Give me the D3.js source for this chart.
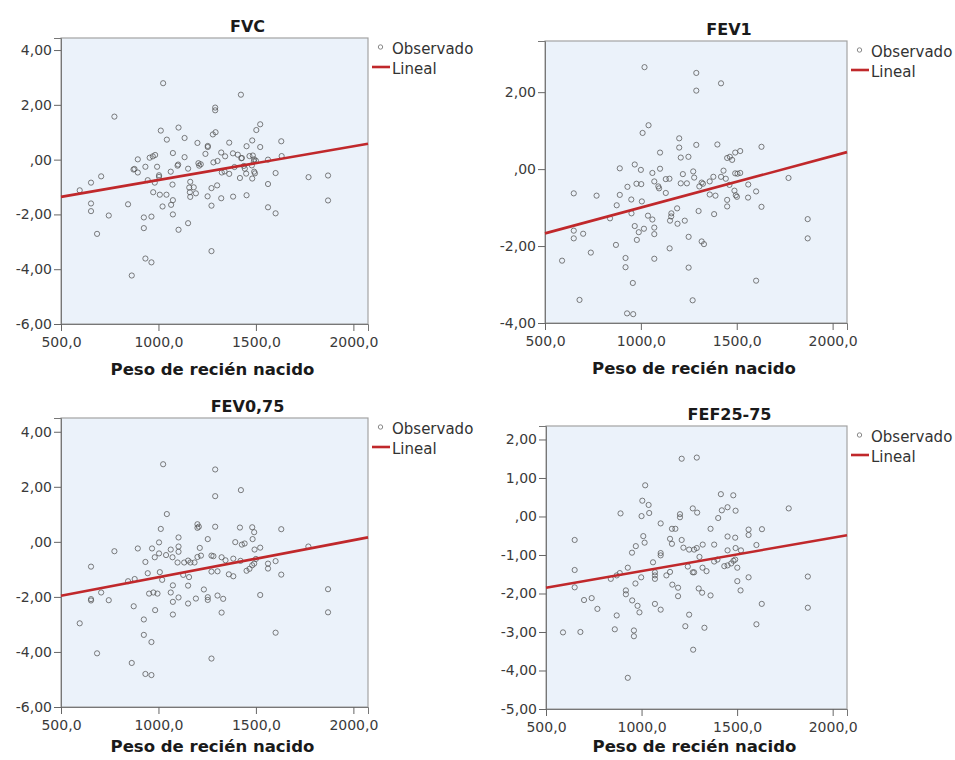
<!DOCTYPE html>
<html><head><meta charset="utf-8">
<script src="https://cdn.jsdelivr.net/npm/d3@7"></script>
<style>
body{margin:0;background:#fff;}
svg{display:block;font-family:"DejaVu Sans",sans-serif;}
</style>
</head><body>
<svg id="chart" width="955" height="760"></svg>
<script>
// ---------- DATA ----------
const titles = ["FVC", "FEV1", "FEV0,75", "FEF25-75"];
const xLabel = "Peso de recién nacido";
const legendLabels = ["Observado", "Lineal"];
const xTicks = [500, 1000, 1500, 2000];
const xDomain = [500, 2075];

const yTicksFVC = [-6, -4, -2, 0, 2, 4];
const yTicksFEV1 = [-4, -2, 0, 2];
const yTicksFEV075 = [-6, -4, -2, 0, 2, 4];
const yTicksFEF = [-5, -4, -3, -2, -1, 0, 1, 2];

const yDomainFVC = [-6, 4.44];
const yDomainFEV1 = [-4, 3.33];
const yDomainFEV075 = [-6, 4.5];
const yDomainFEF = [-5, 2.35];

// linear fit: [intercept, slope]
const fitFVC = [-1.977, 0.001233];
const fitFEV1 = [-2.341, 0.001341];
const fitFEV075 = [-2.634, 0.001348];
const fitFEF = [-2.282, 0.000865];

const fvcPoints = [[1024,2.79],[1423,2.37],[774,1.57],[1291,1.90],[1291,1.80],[1522,1.29],[1502,1.08],[1012,1.06],[1103,1.17],[1279,0.92],[1293,1.00],[1043,0.73],[1134,0.79],[1481,0.70],[1630,0.67],[1200,0.61],[1363,0.62],[1253,0.50],[1253,0.46],[1452,0.49],[1522,0.46],[1074,0.24],[1241,0.21],[1322,0.26],[1342,0.12],[1382,0.23],[1407,0.18],[1428,0.06],[1425,0.05],[1467,0.13],[1484,0.15],[1632,0.13],[894,0.01],[955,0.07],[971,0.12],[983,0.17],[1134,0.09],[1303,-0.05],[1282,-0.10],[1491,0.01],[1500,-0.04],[1490,-0.06],[1562,0.00],[877,-0.34],[872,-0.36],[894,-0.47],[933,-0.26],[993,-0.26],[1098,-0.22],[1101,-0.18],[1152,-0.33],[1205,-0.13],[1217,-0.17],[1209,-0.22],[1063,-0.44],[1390,-0.27],[1438,-0.23],[1443,-0.33],[1479,-0.21],[1450,-0.51],[1491,-0.44],[1495,-0.50],[1601,-0.49],[706,-0.61],[1003,-0.57],[1003,-0.63],[945,-0.75],[981,-0.84],[654,-0.84],[596,-1.12],[1072,-0.91],[1163,-0.81],[1158,-1.02],[1181,-1.01],[1272,-1.04],[1301,-0.94],[1325,-0.47],[1339,-0.43],[1363,-0.52],[1418,-0.67],[1481,-0.69],[1562,-0.89],[1770,-0.64],[1870,-0.58],[1870,-1.49],[973,-1.19],[1007,-1.28],[1041,-1.28],[1074,-1.48],[1161,-1.19],[1163,-1.36],[1192,-1.23],[1252,-1.34],[1322,-1.41],[1383,-1.35],[1452,-1.30],[654,-1.60],[654,-1.88],[844,-1.63],[1021,-1.71],[1065,-1.65],[1272,-1.68],[1562,-1.74],[1601,-1.96],[745,-2.04],[925,-2.11],[964,-2.08],[1074,-2.00],[925,-2.50],[1103,-2.56],[1152,-2.32],[685,-2.71],[1272,-3.34],[933,-3.61],[964,-3.75],[863,-4.23]];

const fev1Points = [[1019,2.65],[1289,2.50],[1289,2.04],[1418,2.23],[1009,0.94],[1040,1.14],[1200,0.80],[1200,0.56],[1289,0.63],[1399,0.64],[1629,0.58],[1100,0.43],[1208,0.30],[1248,0.32],[1450,0.29],[1464,0.32],[1476,0.24],[1492,0.43],[1518,0.47],[890,0.02],[968,0.12],[1000,-0.02],[1060,-0.10],[1100,0.01],[1219,-0.13],[1273,-0.06],[1278,-0.22],[1130,-0.26],[1149,-0.25],[1070,-0.32],[977,-0.38],[1002,-0.39],[930,-0.46],[1091,-0.45],[1095,-0.50],[1208,-0.37],[1240,-0.37],[1317,-0.35],[1324,-0.38],[1359,-0.32],[1378,-0.20],[1431,-0.04],[1418,-0.20],[1443,-0.25],[1492,-0.11],[1504,-0.12],[1518,-0.10],[1462,-0.41],[1560,-0.40],[1770,-0.23],[650,-0.63],[769,-0.69],[890,-0.67],[1130,-0.62],[1305,-0.45],[1359,-0.66],[1389,-0.69],[1488,-0.56],[1495,-0.68],[1501,-0.72],[1559,-0.74],[1601,-0.58],[950,-0.79],[1005,-0.84],[874,-0.94],[1189,-1.02],[1301,-1.09],[1450,-0.80],[1450,-0.97],[1629,-0.98],[951,-1.15],[839,-1.28],[1037,-1.21],[1060,-1.31],[1159,-1.15],[1158,-1.23],[1152,-1.34],[1191,-1.42],[1229,-1.34],[1382,-1.17],[1070,-1.52],[1070,-1.69],[968,-1.48],[1016,-1.55],[989,-1.64],[979,-1.84],[650,-1.60],[650,-1.80],[699,-1.68],[870,-1.97],[739,-2.17],[589,-2.38],[920,-2.31],[920,-2.55],[1070,-2.33],[1150,-2.06],[1249,-1.76],[1317,-1.88],[1329,-1.95],[1249,-2.56],[958,-2.96],[1601,-2.90],[1870,-1.30],[1870,-1.80],[680,-3.40],[1270,-3.41],[928,-3.75],[960,-3.77]];

const fev075Points = [[1024,2.82],[1291,2.63],[1291,1.66],[1423,1.88],[1043,1.01],[1012,0.47],[1200,0.64],[1200,0.51],[1207,0.55],[1291,0.55],[1418,0.52],[1481,0.53],[1491,0.35],[1630,0.46],[1103,0.16],[1253,0.10],[1483,0.10],[1394,-0.01],[1428,-0.10],[1442,-0.06],[894,-0.24],[774,-0.34],[967,-0.24],[1003,-0.02],[1103,-0.17],[1103,-0.36],[1063,-0.28],[1003,-0.42],[981,-0.56],[1039,-0.48],[1072,-0.56],[1212,-0.22],[1493,-0.28],[1522,-0.21],[1769,-0.17],[933,-0.73],[1098,-0.75],[1132,-0.75],[1152,-0.68],[1164,-0.75],[1185,-0.75],[1200,-0.55],[1218,-0.50],[1272,-0.50],[1282,-0.52],[1324,-0.56],[1344,-0.67],[1384,-0.61],[1421,-0.69],[1500,-0.62],[1491,-0.79],[1481,-0.85],[1562,-0.79],[1562,-0.97],[1601,-0.70],[654,-0.90],[945,-1.14],[1007,-1.10],[1019,-1.38],[1127,-1.20],[1157,-1.28],[1272,-1.08],[1303,-1.07],[1361,-1.18],[1384,-1.25],[1452,-1.05],[1467,-0.98],[1630,-1.19],[844,-1.43],[878,-1.35],[706,-1.84],[654,-2.08],[654,-2.13],[745,-2.12],[952,-1.88],[974,-1.84],[995,-1.88],[1074,-1.58],[1063,-1.84],[1074,-2.18],[1103,-2.02],[1152,-1.59],[1152,-2.24],[1192,-2.06],[1233,-1.73],[1253,-2.01],[1253,-2.11],[1303,-1.95],[1332,-2.07],[1522,-1.93],[1870,-1.72],[1870,-2.56],[873,-2.34],[983,-2.48],[1074,-2.64],[1324,-2.57],[596,-2.96],[925,-2.82],[925,-3.38],[964,-3.64],[1601,-3.30],[685,-4.05],[863,-4.40],[1272,-4.24],[933,-4.80],[964,-4.84]];

const fefPoints = [[1210,1.50],[1289,1.53],[1019,0.81],[1004,0.41],[1037,0.30],[1040,0.09],[1000,0.01],[890,0.08],[1268,0.21],[1291,0.10],[1201,0.06],[1201,-0.02],[1415,0.58],[1480,0.55],[1420,0.16],[1450,0.24],[1492,0.15],[1401,-0.04],[1770,0.21],[1100,-0.18],[1159,-0.32],[1177,-0.32],[1361,-0.32],[1560,-0.34],[1560,-0.48],[1630,-0.33],[650,-0.61],[1009,-0.51],[1016,-0.68],[970,-0.77],[950,-0.94],[1149,-0.58],[1159,-0.71],[1210,-0.61],[1219,-0.81],[1249,-0.86],[1275,-0.86],[1289,-0.82],[1320,-0.73],[1380,-0.73],[1450,-0.52],[1490,-0.55],[1450,-0.88],[1492,-0.82],[1520,-0.88],[1601,-0.74],[1100,-0.95],[1100,-1.01],[1060,-1.19],[1303,-1.05],[1380,-1.17],[1397,-1.12],[1433,-1.29],[1450,-1.27],[1469,-1.22],[1481,-1.15],[1490,-1.12],[1501,-1.33],[650,-1.39],[928,-1.33],[886,-1.47],[870,-1.53],[839,-1.62],[998,-1.58],[1070,-1.45],[1070,-1.53],[1070,-1.62],[1130,-1.53],[1149,-1.44],[1242,-1.30],[1268,-1.45],[1275,-1.45],[1319,-1.33],[1340,-1.42],[1560,-1.58],[1870,-1.56],[650,-1.84],[968,-1.74],[1161,-1.77],[1191,-1.85],[1191,-2.07],[1299,-1.87],[1317,-1.98],[1361,-2.05],[1501,-1.68],[1518,-1.92],[699,-2.17],[739,-2.12],[769,-2.40],[918,-1.92],[918,-2.02],[951,-2.18],[979,-2.32],[989,-2.49],[1070,-2.27],[1100,-2.42],[870,-2.57],[860,-2.93],[960,-2.96],[960,-3.11],[1249,-2.55],[1229,-2.85],[1329,-2.89],[1629,-2.27],[1870,-2.37],[1601,-2.80],[589,-3.01],[680,-3.00],[1270,-3.46],[928,-4.19]];

// ---------- LAYOUT ----------
const panels = [
  {title: titles[0], pts: fvcPoints, fit: fitFVC, yTicks: yTicksFVC, yDom: yDomainFVC, box: {l: 61, t: 38, r: 368, b: 324}},
  {title: titles[1], pts: fev1Points, fit: fitFEV1, yTicks: yTicksFEV1, yDom: yDomainFEV1, box: {l: 545, t: 41, r: 847, b: 323}},
  {title: titles[2], pts: fev075Points, fit: fitFEV075, yTicks: yTicksFEV075, yDom: yDomainFEV075, box: {l: 61, t: 418, r: 368, b: 707}},
  {title: titles[3], pts: fefPoints, fit: fitFEF, yTicks: yTicksFEF, yDom: yDomainFEF, box: {l: 546, t: 426, r: 847, b: 709}}
];

const svg = d3.select("#chart");
const fmtY = v => v === 0 ? ",00" : v.toFixed(2).replace(".", ",");
const fmtX = v => v.toFixed(1).replace(".", ",");

panels.forEach(p => {
  const b = p.box;
  const x = d3.scaleLinear().domain(xDomain).range([b.l, b.r]);
  const y = d3.scaleLinear().domain(p.yDom).range([b.b, b.t]);
  const g = svg.append("g");

  g.append("rect").attr("x", b.l).attr("y", b.t).attr("width", b.r - b.l).attr("height", b.b - b.t)
    .attr("fill", "#ebf2fa").attr("stroke", "#a3a3a3").attr("stroke-width", 1.2);

  // y axis
  const ya = g.append("g").attr("transform", `translate(${b.l},0)`)
    .call(d3.axisLeft(y).tickValues(p.yTicks).tickFormat(fmtY).tickSize(7).tickPadding(2));
  ya.select(".domain").attr("stroke", "#777");
  ya.selectAll(".tick line").attr("stroke", "#666");
  ya.selectAll(".tick text").attr("fill", "#3a3a3a").style("font-size", "14px").style("font-family", "DejaVu Sans");

  // x axis
  const xa = g.append("g").attr("transform", `translate(0,${b.b})`)
    .call(d3.axisBottom(x).tickValues(xTicks).tickFormat(fmtX).tickSize(7).tickPadding(6));
  xa.select(".domain").attr("stroke", "#777");
  xa.selectAll(".tick line").attr("stroke", "#666");
  xa.selectAll(".tick text").attr("fill", "#3a3a3a").style("font-size", "14px").style("font-family", "DejaVu Sans");

  // points
  g.append("g").selectAll("circle").data(p.pts).join("circle")
    .attr("cx", d => x(d[0])).attr("cy", d => y(d[1])).attr("r", 2.6)
    .attr("fill", "none").attr("stroke", "#555").attr("stroke-opacity", 0.85).attr("stroke-width", 0.9);

  // fit line
  const line = d3.line().x(d => x(d)).y(d => y(p.fit[0] + p.fit[1] * d));
  g.append("path").datum(xDomain).attr("d", line)
    .attr("stroke", "#c0282b").attr("stroke-width", 2.6).attr("fill", "none");

  // title
  g.append("text").attr("x", (b.l + b.r) / 2 + 33).attr("y", b.t - 6)
    .attr("text-anchor", "middle").attr("fill", "#1a1a1a")
    .style("font-size", "16px").style("font-weight", "bold").text(p.title);

  // x axis title
  g.append("text").attr("x", (b.l + b.r) / 2 - 2).attr("y", Math.min(b.b + 51, 752))
    .attr("text-anchor", "middle").attr("fill", "#1a1a1a")
    .style("font-size", "16.5px").style("font-weight", "bold").text(xLabel);

  // legend
  const lg = g.append("g").attr("transform", `translate(${b.r},${b.t})`);
  lg.append("circle").attr("cx", 12.5).attr("cy", 9).attr("r", 2.2)
    .attr("fill", "none").attr("stroke", "#888").attr("stroke-width", 1);
  lg.append("text").attr("x", 24).attr("y", 15.5).attr("fill", "#333")
    .style("font-size", "15px").text(legendLabels[0]);
  lg.append("line").attr("x1", 4).attr("x2", 22).attr("y1", 29).attr("y2", 29)
    .attr("stroke", "#c0282b").attr("stroke-width", 2.6);
  lg.append("text").attr("x", 24).attr("y", 35.5).attr("fill", "#333")
    .style("font-size", "15px").text(legendLabels[1]);
});
</script>
</body></html>
